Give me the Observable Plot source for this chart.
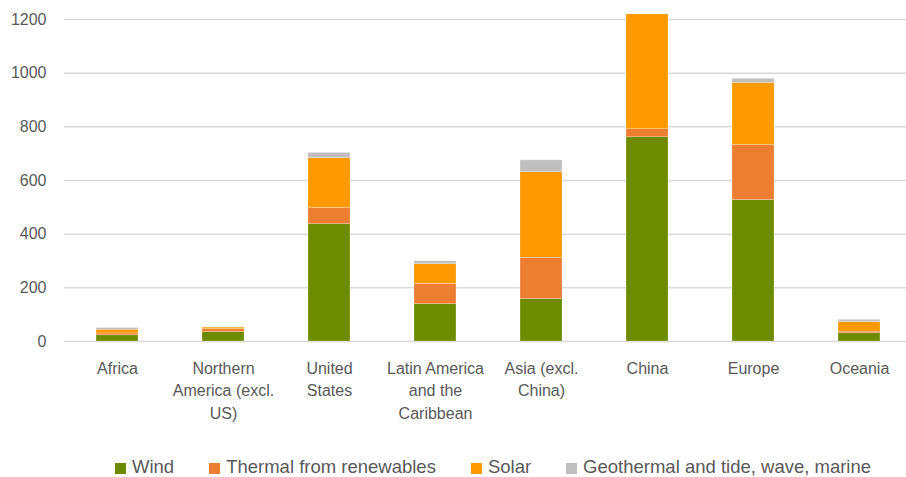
<!DOCTYPE html>
<html>
<head>
<meta charset="utf-8">
<script src="https://cdn.jsdelivr.net/npm/d3@7"></script>
<script src="https://cdn.jsdelivr.net/npm/@observablehq/plot@0.6"></script>
<style>
  body { margin: 0; background: #fff; font-family: "Liberation Sans", Arial, sans-serif; }
  #legend { display: flex; align-items: center; padding-left: 115px; margin-top: 25px; font-size: 18.5px; color: #595959; height: 24px; white-space: nowrap; }
  #legend .item { display: flex; align-items: center; margin-right: 35px; flex: none; }
  #legend .sw { width: 11px; height: 11px; margin-right: 6px; margin-top: 3px; flex: none; }
</style>
</head>
<body>
<div id="chart"></div>
<div id="legend"></div>
<script>
const regions = ["Africa", "Northern America (excl. US)", "United States", "Latin America and the Caribbean", "Asia (excl. China)", "China", "Europe", "Oceania"];
const regionLabels = ["Africa", "Northern\nAmerica (excl.\nUS)", "United\nStates", "Latin America\nand the\nCaribbean", "Asia (excl.\nChina)", "China", "Europe", "Oceania"];
const seriesNames = ["Wind", "Thermal from renewables", "Solar", "Geothermal and tide, wave, marine"];
const seriesColors = ["#6E8B00", "#ED7D31", "#FF9900", "#BFBFBF"];
const wind    = [23, 35, 437, 139, 158, 761, 527, 31];
const thermal = [7, 11, 60, 76, 154, 30, 205, 6];
const solar   = [14, 6, 186, 73, 319, 428, 232, 35];
const geo     = [6, 1, 20, 11, 44, 0, 15, 9];
const yTicks = [0, 200, 400, 600, 800, 1000, 1200];

const seriesValues = [wind, thermal, solar, geo];
const data = [];
regions.forEach((r, i) => {
  seriesNames.forEach((s, j) => data.push({region: r, series: s, value: seriesValues[j][i]}));
});
const labelOf = new Map(regions.map((r, i) => [r, regionLabels[i]]));

const chart = Plot.plot({
  width: 906,
  height: 430,
  marginLeft: 64,
  marginRight: -6,
  marginTop: 19,
  marginBottom: 89,
  style: {fontFamily: "'Liberation Sans', Arial, sans-serif", fontSize: "16px", color: "#595959", overflow: "visible"},
  x: {domain: regions, paddingInner: 0.6, paddingOuter: 0.3, label: null},
  y: {domain: [0, 1200], label: null},
  color: {domain: seriesNames, range: seriesColors},
  marks: [
    Plot.ruleY(yTicks, {stroke: "#D9D9D9", strokeWidth: 1.5}),
    Plot.barY(data, Plot.stackY({x: "region", y: "value", fill: "series", stroke: "#fff", strokeWidth: 0.5, strokeOpacity: 0.5})),
    Plot.axisY({ticks: yTicks, tickSize: 0, tickPadding: 18, fontSize: 16, fill: "#595959", tickFormat: d => String(d), label: null}),
    Plot.axisX({tickSize: 0, tickPadding: 16, fontSize: 16, fill: "#595959", lineHeight: 1.42, tickFormat: d => labelOf.get(d), label: null})
  ]
});
document.getElementById("chart").appendChild(chart);

const legend = document.getElementById("legend");
seriesNames.forEach((s, j) => {
  const item = document.createElement("div");
  item.className = "item";
  const sw = document.createElement("span");
  sw.className = "sw";
  sw.style.background = seriesColors[j];
  const t = document.createElement("span");
  t.textContent = s;
  item.appendChild(sw);
  item.appendChild(t);
  legend.appendChild(item);
});
</script>
</body>
</html>
